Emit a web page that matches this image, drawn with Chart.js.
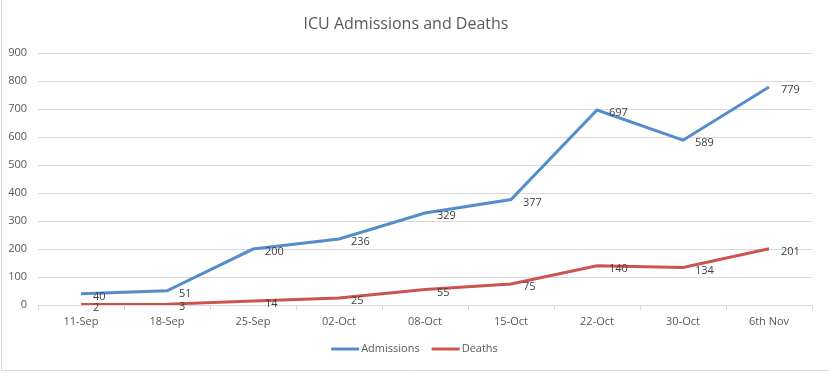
<!DOCTYPE html>
<html>
<head>
<meta charset="utf-8">
<script src="https://cdn.jsdelivr.net/npm/chart.js@4"></script>
<style>
  html, body { margin: 0; padding: 0; background: #fff; }
  #wrap { width: 829px; height: 373px; }
</style>
</head>
<body>
<div id="wrap"><canvas id="myChart" width="829" height="373"></canvas></div>
<script>
  const labels = ['11-Sep', '18-Sep', '25-Sep', '02-Oct', '08-Oct', '15-Oct', '22-Oct', '30-Oct', '6th Nov'];
  const admissions = [40, 51, 200, 236, 329, 377, 697, 589, 779];
  const deaths = [2, 3, 14, 25, 55, 75, 140, 134, 201];

  const FONT = "'Open Sans', 'Liberation Sans', sans-serif";
  const GREY = '#d9d9d9';
  const TEXT = '#595959';

  // value labels to the right of each point
  const valueLabels = {
    id: 'valueLabels',
    afterDatasetsDraw(chart) {
      const ctx = chart.ctx;
      ctx.save();
      ctx.font = '11px ' + FONT;
      ctx.fillStyle = '#404040';
      ctx.textAlign = 'left';
      ctx.textBaseline = 'middle';
      chart.data.datasets.forEach(function (ds, i) {
        chart.getDatasetMeta(i).data.forEach(function (pt, j) {
          ctx.fillText(ds.data[j], pt.x + 12, pt.y + 3);
        });
      });
      ctx.restore();
    }
  };

  // excel style legend: short thick line then the name, tight together
  const lineLegend = {
    id: 'lineLegend',
    afterDraw(chart) {
      const ctx = chart.ctx;
      const y = 349;
      const mark = 28, gap = 2, between = 12;
      ctx.save();
      ctx.font = '11px ' + FONT;
      const items = chart.data.datasets.map(function (ds) {
        return { text: ds.label, color: ds.borderColor, w: mark + gap + ctx.measureText(ds.label).width };
      });
      const total = items.reduce(function (s, it) { return s + it.w; }, 0) + between * (items.length - 1);
      let x = chart.width / 2 - total / 2;
      items.forEach(function (it) {
        ctx.strokeStyle = it.color;
        ctx.lineWidth = 3;
        ctx.beginPath();
        ctx.moveTo(x, y);
        ctx.lineTo(x + mark, y);
        ctx.stroke();
        ctx.fillStyle = TEXT;
        ctx.textAlign = 'left';
        ctx.textBaseline = 'middle';
        ctx.fillText(it.text, x + mark + gap, y);
        x += it.w + between;
      });
      ctx.restore();
    }
  };

  // light frame of the chart object
  const frame = {
    id: 'frame',
    beforeDraw(chart) {
      const ctx = chart.ctx;
      ctx.save();
      ctx.strokeStyle = GREY;
      ctx.lineWidth = 1;
      ctx.beginPath();
      ctx.moveTo(1.5, 0);
      ctx.lineTo(1.5, 370.5);
      ctx.lineTo(829, 370.5);
      ctx.stroke();
      ctx.restore();
    }
  };

  const config = {
    type: 'line',
    data: {
      labels: labels,
      datasets: [{
        label: 'Admissions',
        data: admissions,
        borderColor: 'rgb(84, 140, 204)',
        backgroundColor: 'rgb(84, 140, 204)',
        borderWidth: 3,
        pointRadius: 0,
        tension: 0
      }, {
        label: 'Deaths',
        data: deaths,
        borderColor: 'rgb(204, 84, 80)',
        backgroundColor: 'rgb(204, 84, 80)',
        borderWidth: 3,
        pointRadius: 0,
        tension: 0
      }]
    },
    options: {
      responsive: false,
      animation: false,
      layout: { padding: { left: 0, right: 17, top: 0, bottom: 38 } },
      plugins: {
        title: {
          display: true,
          text: 'ICU Admissions and Deaths',
          color: TEXT,
          font: { family: FONT, size: 16, weight: 'normal' },
          padding: { top: 15, bottom: 19 }
        },
        legend: { display: false },
        tooltip: { enabled: false }
      },
      scales: {
        x: {
          offset: true,
          afterFit(scale) { scale.height = 30; },
          grid: { drawOnChartArea: false, offset: true, tickLength: 5, color: GREY },
          border: { color: GREY },
          ticks: { color: TEXT, padding: 5, font: { family: FONT, size: 11 } }
        },
        y: {
          min: 0,
          max: 900,
          afterFit(scale) { scale.width = 38; },
          grid: { color: GREY, drawTicks: false },
          border: { display: false },
          ticks: { stepSize: 100, color: TEXT, padding: 11, font: { family: FONT, size: 11 } }
        }
      }
    },
    plugins: [valueLabels, lineLegend, frame]
  };

  const myChart = new Chart(document.getElementById('myChart'), config);
</script>
</body>
</html>
